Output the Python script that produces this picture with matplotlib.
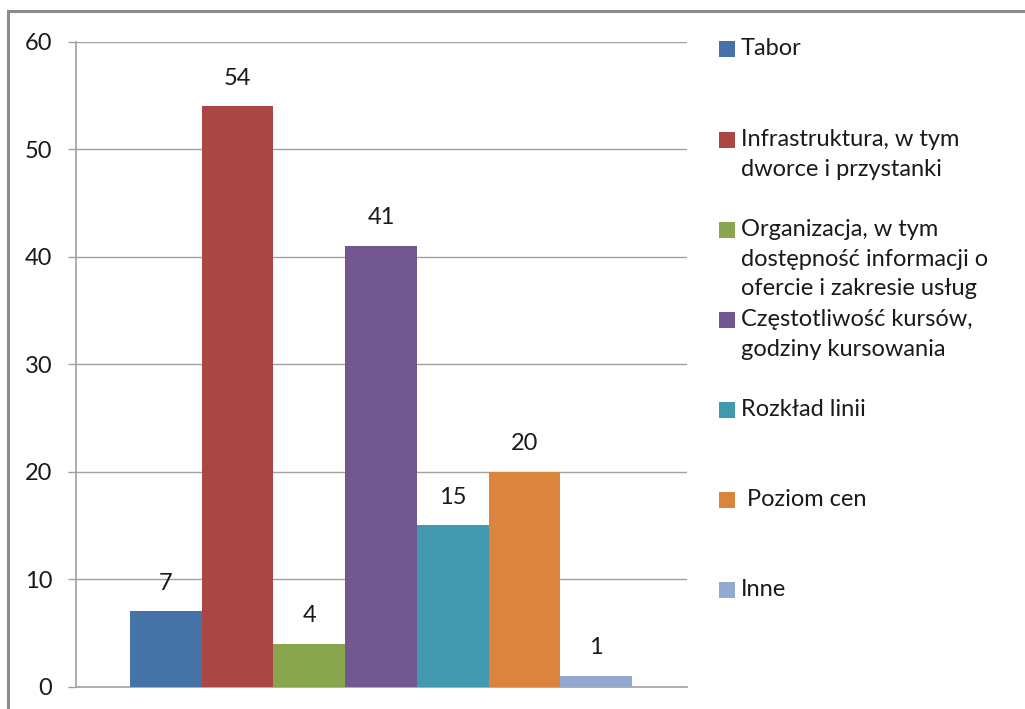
import matplotlib
matplotlib.use('Agg')
import matplotlib.pyplot as plt
from matplotlib.patches import Rectangle

plt.rcParams['font.family'] = ['Lato', 'DejaVu Sans']

# dane
kategorie = ['Tabor',
             'Infrastruktura, w tym\ndworce i przystanki',
             'Organizacja, w tym\ndostępność informacji o\nofercie i zakresie usług',
             'Częstotliwość kursów,\ngodziny kursowania',
             'Rozkład linii',
             ' Poziom cen',
             'Inne']
wartosci = [7, 54, 4, 41, 15, 20, 1]
kolory = ['#4572A7', '#AA4643', '#89A54E', '#71588F', '#4198AF', '#DB843D', '#93A9CF']
legenda_y = [49, 140, 230, 320, 410, 500, 590]  # srodek kwadratu w pikselach od gory

W, H = 1025, 709
fig = plt.figure(figsize=(W/100, H/100), dpi=100)
ax = fig.add_axes([76/W, 1-686.5/H, (687-76)/W, (686.5-41.5)/H])

x = list(range(len(wartosci)))
ax.bar(x, wartosci, width=1.0, color=kolory, zorder=3)
for xi, v in zip(x, wartosci):
    ax.annotate(str(v), (xi, v), xytext=(0, 20), textcoords='offset points',
                ha='center', va='center', fontsize=17, color='#1a1a1a')

ax.set_xlim(-0.5-54/71.7, 6.5+55/71.7)
ax.set_ylim(0, 60)
ax.set_yticks(range(0, 61, 10))
ax.set_xticks([])
ax.grid(axis='y', color='#a0a0a0', linewidth=1.0, zorder=0)
for s in ['top', 'right']:
    ax.spines[s].set_visible(False)
ax.spines['left'].set_color('#a0a0a0')
ax.spines['bottom'].set_color('#a0a0a0')
ax.spines['left'].set_linewidth(1.2)
ax.spines['bottom'].set_linewidth(1.2)
ax.tick_params(axis='y', length=6, color='#a0a0a0', width=1.0, pad=11,
               labelsize=17, labelcolor='#1a1a1a')

# legenda recznie
for lab, col, yc in zip(kategorie, kolory, legenda_y):
    fig.patches.append(Rectangle((719/W, 1-(yc+8)/H), 16/W, 16/H,
                                 transform=fig.transFigure, facecolor=col,
                                 edgecolor='none'))
    fig.text(741/W, 1-(yc-11)/H, lab, ha='left', va='top', fontsize=17,
             color='#1a1a1a', linespacing=1.5)

# ramka
fig.patches.append(Rectangle((7.5/W, -0.2), 1.2, 1.2-11/H+0.0,
                             transform=fig.transFigure, fill=False,
                             edgecolor='#8c8c8c', linewidth=2.2))

fig.savefig('out.png', dpi=100)
